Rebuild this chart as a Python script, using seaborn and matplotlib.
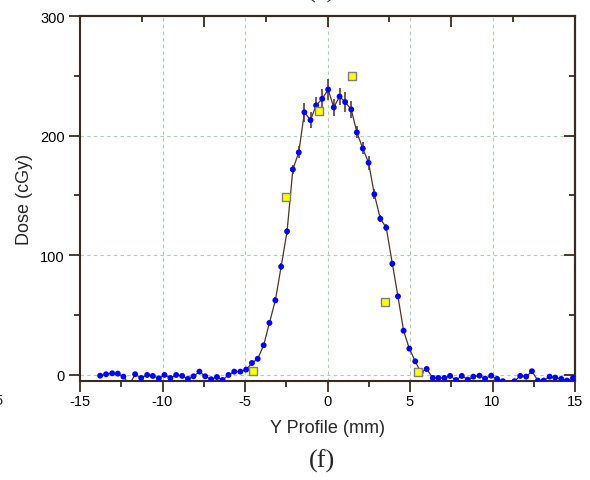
import matplotlib
matplotlib.use("Agg")
import matplotlib.pyplot as plt
import seaborn as sns
import pandas as pd
from matplotlib.ticker import FixedLocator, NullFormatter

# Measured dose profile (blue points)
profile_mm = [-13.78, -13.42, -13.05, -12.71, -12.37, -12.00, -11.66, -11.29, -10.93, -10.59,
              -10.22, -9.88, -9.52, -9.17, -8.81, -8.46, -8.12, -7.76, -7.41, -7.05,
              -6.70, -6.36, -6.00, -5.65, -5.28, -4.93, -4.58, -4.23, -3.87, -3.52,
              -3.16, -2.81, -2.45, -2.10, -1.74, -1.40, -1.03, -0.69, -0.32, 0.04,
              0.38, 0.73, 1.07, 1.44, 1.78, 2.14, 2.49, 2.84, 3.20, 3.56,
              3.93, 4.27, 4.61, 4.96, 5.32, 5.65, 6.01, 6.38, 6.72, 7.09,
              7.43, 7.79, 8.14, 8.50, 8.84, 9.21, 9.55, 9.92, 10.28, 10.63,
              10.98, 11.33, 11.68, 12.04, 12.39, 12.75, 13.10, 13.46, 13.80, 14.17,
              14.51, 14.88]
profile_dose = [-0.6, 0.6, 1.4, 1.1, -1.4, -8.0, 0.6, -2.5, 0.0, -0.8,
                -2.8, 0.0, -2.5, 0.0, -0.8, -3.3, -1.1, 2.8, -1.1, -3.6,
                -1.7, -4.2, 0.0, 2.8, 2.8, 4.5, 10.0, 13.5, 24.8, 43.5,
                62.4, 90.5, 120.0, 171.8, 186.0, 219.5, 213.0, 225.3, 230.8, 238.6,
                223.6, 232.7, 228.1, 221.9, 202.7, 189.3, 177.4, 151.0, 130.6, 123.1,
                93.0, 65.7, 37.0, 22.0, 11.4, 2.2, 5.0, -2.5, -2.5, -2.5,
                -0.8, -4.2, -0.8, -3.9, -1.4, -0.6, -3.1, -0.6, -3.3, -5.2,
                -9.0, -5.2, -0.8, -1.4, 3.1, -4.7, -4.7, -1.4, -2.2, -3.3,
                -4.7, -2.5]
profile_err = [1.5, 1.5, 1.5, 1.5, 1.5, 1.5, 1.5, 1.5, 1.5, 1.5,
               1.5, 1.5, 1.5, 1.5, 1.5, 1.5, 1.5, 1.5, 1.5, 1.5,
               1.5, 1.5, 1.5, 1.5, 1.5, 1.5, 1.5, 1.5, 2.0, 2.0,
               2.5, 3.0, 3.0, 4.0, 5.0, 8.0, 7.0, 7.0, 8.0, 8.5,
               7.0, 7.0, 8.0, 7.0, 5.0, 5.0, 6.0, 4.0, 3.0, 3.0,
               2.5, 2.0, 2.0, 1.5, 1.5, 1.5, 1.5, 1.5, 1.5, 1.5,
               1.5, 1.5, 1.5, 1.5, 1.5, 1.5, 1.5, 1.5, 1.5, 1.5,
               1.5, 1.5, 1.5, 1.5, 1.5, 1.5, 1.5, 1.5, 1.5, 1.5,
               1.5, 1.5]

# Calculated dose (yellow squares)
calc_mm = [-4.5, -2.5, -0.5, 1.5, 3.5, 5.5]
calc_dose = [3.0, 148.4, 220.2, 249.5, 61.2, 2.2]

x_ticks = [-15, -10, -5, 0, 5, 10, 15]
y_ticks = [0, 100, 200, 300]

meas = pd.DataFrame({"pos": profile_mm, "dose": profile_dose, "err": profile_err})
calc = pd.DataFrame({"pos": calc_mm, "dose": calc_dose})

sns.set_style("white")
plt.rcParams["font.family"] = ["Liberation Sans", "DejaVu Sans"]

spine_col = "#3b2a1e"
fig = plt.figure(figsize=(5.90, 4.81), dpi=100)
ax = fig.add_axes([80 / 590, 1 - 381.7 / 481, 495 / 590, (381.7 - 17) / 481])

ax.set_xlim(-15, 15)
ax.set_ylim(-4.8, 300)

# dashed grid
for gx in [-10, -5, 0, 5, 10]:
    ax.axvline(gx, color="#a9cfb0", lw=0.8, ls=(0, (3, 3)), zorder=0)
for gy in [0, 100, 200]:
    ax.axhline(gy, color="#a9cfb0", lw=0.8, ls=(0, (3, 3)), zorder=0)

sns.lineplot(data=meas, x="pos", y="dose", sort=False, estimator=None,
             color="#4d3326", lw=0.9, ax=ax, zorder=2)
ax.errorbar(meas["pos"], meas["dose"], yerr=meas["err"], fmt="none",
            ecolor="#5c3d2e", elinewidth=1.2, capsize=0, zorder=3)
sns.scatterplot(data=meas, x="pos", y="dose", color="#0000ff", s=18,
                edgecolor="none", ax=ax, zorder=4)
sns.scatterplot(data=calc, x="pos", y="dose", marker="s", color="#ffff00", s=34,
                edgecolor="#7f7f7f", linewidth=1.0, ax=ax, zorder=5)

# axes styling
for sp in ax.spines.values():
    sp.set_color(spine_col)
    sp.set_linewidth(1.5)

ax.set_xticks(x_ticks)
ax.set_xticklabels([str(v) for v in x_ticks])
ax.xaxis.set_minor_locator(FixedLocator([-12.5, -7.5, -2.5, 2.5, 7.5, 12.5]))
ax.set_yticks(y_ticks)
ax.set_yticklabels([str(v) for v in y_ticks])
ax.yaxis.set_minor_locator(FixedLocator([50, 150, 250]))
ax.tick_params(which="major", direction="out", length=8, width=1.3,
               color=spine_col, labelsize=10.5, labelcolor="black", pad=3)
ax.tick_params(axis="x", which="major", pad=1.5)
ax.tick_params(which="minor", direction="out", length=4, width=1.3, color=spine_col)
ax.tick_params(axis="x", which="both", bottom=True)
ax.tick_params(axis="y", which="both", left=True)

top = ax.secondary_xaxis("top")
top.set_xticks([-7.5, 0, 7.5])
top.xaxis.set_minor_locator(FixedLocator([-11.25, -3.75, 3.75, 11.25]))
top.xaxis.set_major_formatter(NullFormatter())
top.tick_params(which="major", direction="in", length=8, width=1.3, color=spine_col)
top.tick_params(which="minor", direction="in", length=4, width=1.3, color=spine_col)
top.spines["top"].set_color(spine_col)
top.spines["top"].set_linewidth(1.5)

right = ax.secondary_yaxis("right")
right.set_yticks(y_ticks)
right.yaxis.set_minor_locator(FixedLocator([50, 150, 250]))
right.yaxis.set_major_formatter(NullFormatter())
right.tick_params(which="major", direction="in", length=8, width=1.3, color=spine_col)
right.tick_params(which="minor", direction="in", length=4, width=1.3, color=spine_col)
right.spines["right"].set_color(spine_col)
right.spines["right"].set_linewidth(1.5)

ax.set_xlabel("Y Profile (mm)", fontsize=13, labelpad=8)
ax.set_ylabel("Dose (cGy)", fontsize=13, labelpad=5)

fig.text(322 / 590, 1 - 461 / 481, "(f)", ha="center", va="center",
         fontsize=19, family=["Liberation Serif", "DejaVu Serif"])
fig.text(322 / 590, 1 - 3 / 481, "(e)", ha="center", va="bottom",
         fontsize=19, family=["Liberation Serif", "DejaVu Serif"])
fig.text(3 / 590, 1 - 401 / 481, "5", ha="right", va="center", fontsize=10.5)

fig.savefig("out.png", dpi=100)
